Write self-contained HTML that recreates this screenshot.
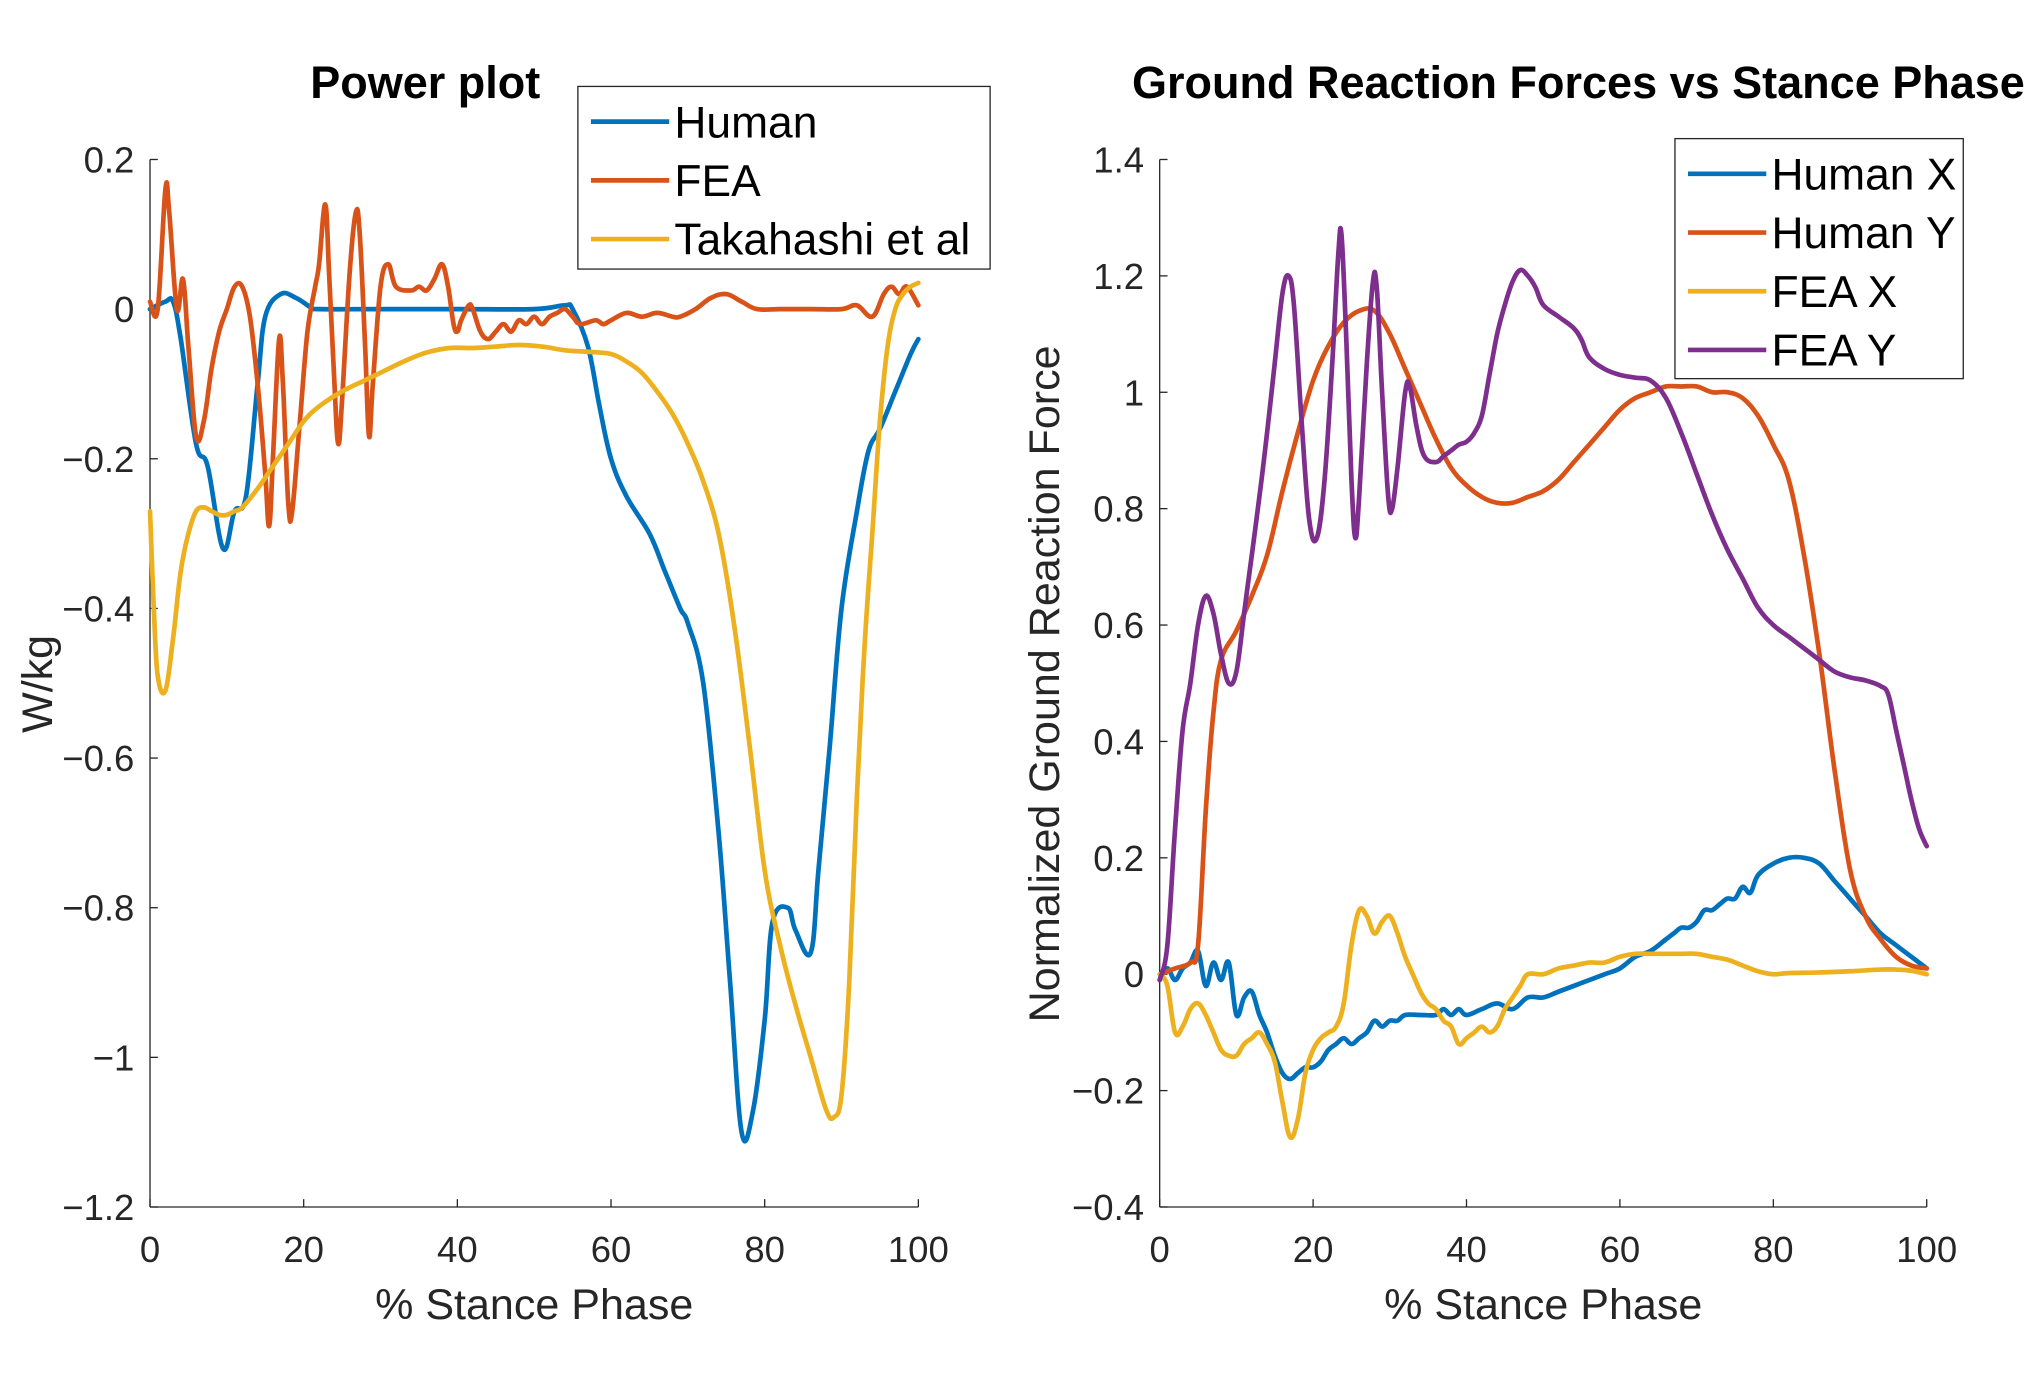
<!DOCTYPE html>
<html><head><meta charset="utf-8"><style>
html,body{margin:0;padding:0;background:#fff;}
svg{display:block;font-family:"Liberation Sans",Arial,sans-serif;}
</style></head><body>
<svg id="fig" width="2035" height="1373" viewBox="0 0 1560 1052" xmlns="http://www.w3.org/2000/svg">
<rect width="1560" height="1052" fill="#fff"/>
</svg>
<script>
// ---------- Left chart data (Power plot) ----------
const lHumanX=[0,2,3,4,6,7.5,9.5,11,12.5,14,15,17,19,21,22,30,40,50,54,55,57,58.5,60,62,65,67,69,70,72,74,75.5,77,78.5,80,81,83,84,86,87,88.5,90,92,93.5,95,97,99,100];
const lHumanY=[0,0.01,0.01,-0.04,-0.18,-0.21,-0.32,-0.27,-0.25,-0.1,-0.01,0.02,0.015,0.002,0,0,0,0,0.005,0,-0.05,-0.13,-0.2,-0.25,-0.3,-0.35,-0.4,-0.42,-0.5,-0.7,-0.9,-1.1,-1.07,-0.95,-0.82,-0.8,-0.83,-0.86,-0.75,-0.58,-0.4,-0.27,-0.19,-0.16,-0.11,-0.06,-0.04];
const lFeaX=[0,1,2,2.5,3.5,4.3,5,6,7,8,9,10,11,12,13,14,15,15.5,16,16.8,17.3,18,18.5,19.5,20.5,21.5,22,22.8,23.3,24,24.5,25,26,26.8,27.3,28,28.5,29,30,31,32,34,35,36,37,38,38.8,39.5,40,40.5,41.5,42,43,44,45,46,47,48,49,50,51,52,53,54,55,56,58,59,60,62,64,66,68,69,71,73,75,77,79,82,86,90,92,94,95.5,96.5,97.5,98.5,100];
const lFeaY=[0.01,0,0.16,0.13,0,0.04,-0.05,-0.17,-0.15,-0.08,-0.03,0,0.03,0.03,-0.01,-0.1,-0.22,-0.29,-0.2,-0.04,-0.1,-0.26,-0.27,-0.15,-0.03,0.03,0.06,0.14,0.05,-0.1,-0.18,-0.12,0.05,0.13,0.1,-0.05,-0.17,-0.1,0.03,0.06,0.03,0.025,0.03,0.025,0.04,0.06,0.03,-0.02,-0.03,-0.015,0.005,0,-0.03,-0.04,-0.03,-0.02,-0.03,-0.015,-0.02,-0.01,-0.02,-0.01,-0.005,0,-0.01,-0.02,-0.015,-0.02,-0.015,-0.005,-0.01,-0.005,-0.01,-0.01,0,0.015,0.02,0.01,0,0,0,0,0.005,-0.01,0.02,0.03,0.02,0.03,0.005];
const lTakX=[0,0.5,1,2,3,4,5,6,7,8,9,10,11,12,14,16,18,20,22,25,28,30,33,36,39,42,45,48,51,54,57,60,62,64,66,68,70,72,74,76,78,80,82,84,86,88,89,90,91,92,93,94,95,96,97,98,99,100];
const lTakY=[-0.27,-0.4,-0.49,-0.51,-0.44,-0.35,-0.3,-0.27,-0.265,-0.27,-0.275,-0.275,-0.27,-0.265,-0.24,-0.21,-0.18,-0.15,-0.13,-0.11,-0.095,-0.085,-0.07,-0.058,-0.052,-0.052,-0.05,-0.048,-0.05,-0.055,-0.057,-0.06,-0.07,-0.085,-0.11,-0.14,-0.18,-0.23,-0.3,-0.42,-0.58,-0.75,-0.85,-0.93,-1.0,-1.07,-1.08,-1.05,-0.9,-0.65,-0.45,-0.3,-0.15,-0.05,0,0.02,0.03,0.035];
const lXTicks=[0,20,40,60,80,100];
const lYTicks=[0.2,0,-0.2,-0.4,-0.6,-0.8,-1,-1.2];
const lLegend=["Human","FEA","Takahashi et al"];

// ---------- Right chart data (GRF) ----------
const rHXx=[0,1,2,3,4,5,6,7,8,9,10,11,12,13,14,15,16,17,18,19,20,21,22,23,24,25,26,27,28,29,30,31,32,34,36,37,38,39,40,42,44,46,48,50,52,54,56,58,60,62,64,66,67,68,69,70,71,72,73,74,75,76,77,78,80,82,84,86,88,90,92,94,96,98,100];
const rHXy=[-0.01,0.01,-0.01,0.01,0.02,0.04,-0.02,0.02,-0.01,0.02,-0.07,-0.04,-0.03,-0.07,-0.1,-0.14,-0.17,-0.18,-0.17,-0.16,-0.16,-0.15,-0.13,-0.12,-0.11,-0.12,-0.11,-0.1,-0.08,-0.09,-0.08,-0.08,-0.07,-0.07,-0.07,-0.06,-0.07,-0.06,-0.07,-0.06,-0.05,-0.06,-0.04,-0.04,-0.03,-0.02,-0.01,0,0.01,0.03,0.04,0.06,0.07,0.08,0.08,0.09,0.11,0.11,0.12,0.13,0.13,0.15,0.14,0.17,0.19,0.2,0.2,0.19,0.16,0.13,0.1,0.07,0.05,0.03,0.01];
const rHYx=[0,2,4,5,6,7,8,10,12,14,16,18,20,22,24,26,28,30,32,34,36,38,40,42,44,46,48,50,52,54,56,58,60,62,64,66,68,70,72,74,76,78,80,82,84,86,88,90,92,94,96,98,100];
const rHYy=[0,0.01,0.02,0.05,0.28,0.45,0.54,0.59,0.65,0.72,0.83,0.93,1.02,1.08,1.12,1.14,1.14,1.1,1.04,0.98,0.92,0.87,0.84,0.82,0.81,0.81,0.82,0.83,0.85,0.88,0.91,0.94,0.97,0.99,1.0,1.01,1.01,1.01,1.0,1.0,0.99,0.96,0.91,0.85,0.72,0.55,0.35,0.18,0.1,0.06,0.03,0.015,0.01];
const rFXx=[0,1,2,3,4,5,6,7,8,9,10,11,12,13,14,15,16,17,18,19,20,21,22,23,24,25,26,27,28,29,30,31,32,33,34,35,36,37,38,39,40,41,42,43,44,45,46,47,48,50,52,54,56,58,60,62,64,66,68,70,72,74,76,78,80,82,86,90,94,96,98,100];
const rFXy=[0,-0.02,-0.1,-0.09,-0.06,-0.05,-0.07,-0.1,-0.13,-0.14,-0.14,-0.12,-0.11,-0.1,-0.12,-0.15,-0.22,-0.28,-0.25,-0.17,-0.13,-0.11,-0.1,-0.09,-0.05,0.05,0.11,0.1,0.07,0.09,0.1,0.07,0.03,0,-0.03,-0.05,-0.06,-0.08,-0.09,-0.12,-0.11,-0.1,-0.09,-0.1,-0.09,-0.06,-0.04,-0.02,0,0,0.01,0.015,0.02,0.02,0.03,0.035,0.035,0.035,0.035,0.035,0.03,0.025,0.015,0.005,0,0.002,0.003,0.005,0.008,0.008,0.006,0];
const rFYx=[0,1,2,3,4,5,6,7,8,9,10,11,12,13,14,15,16,16.8,17.5,18.5,19.5,20.5,21.5,22.5,23.3,23.7,24.3,25,25.5,26,27,27.8,28.3,29,29.8,30.3,31,32,32.6,33.5,34.5,36,37,38,39,40,41,42,43,44,45,46,47,48,49,50,52,54,55,56,58,60,62,64,66,68,70,72,74,76,78,80,82,84,86,88,90,92,94,95,96,97,98,99,100];
const rFYy=[-0.01,0.05,0.25,0.42,0.5,0.6,0.65,0.62,0.55,0.5,0.52,0.62,0.72,0.82,0.93,1.05,1.17,1.2,1.15,0.95,0.78,0.75,0.85,1.05,1.24,1.27,1.1,0.85,0.75,0.82,1.05,1.19,1.18,1.0,0.82,0.8,0.87,1.0,1.01,0.94,0.89,0.88,0.89,0.9,0.91,0.915,0.93,0.96,1.03,1.1,1.15,1.19,1.21,1.2,1.18,1.15,1.13,1.11,1.09,1.06,1.04,1.03,1.025,1.02,0.99,0.93,0.86,0.79,0.73,0.68,0.63,0.6,0.58,0.56,0.54,0.52,0.51,0.505,0.495,0.48,0.42,0.36,0.3,0.25,0.22];
const rXTicks=[0,20,40,60,80,100];
const rYTicks=[1.4,1.2,1,0.8,0.6,0.4,0.2,0,-0.2,-0.4];
const rLegend=["Human X","Human Y","FEA X","FEA Y"];

const NS="http://www.w3.org/2000/svg";
const svg=document.getElementById('fig');
const C=["#0072BD","#D95319","#EDB120","#7E2F8E"];
function mk(tag,attrs,parent){const e=document.createElementNS(NS,tag);for(const k in attrs)e.setAttribute(k,attrs[k]);(parent||svg).appendChild(e);return e;}
function fmt(v){let s=String(Math.round(v*10)/10);return s.replace('-','\u2212');}
function smooth(P){
  let d='M'+P[0][0].toFixed(1)+','+P[0][1].toFixed(1);
  const t=0.18;
  for(let i=0;i<P.length-1;i++){
    const p0=P[i-1]||P[i],p1=P[i],p2=P[i+1],p3=P[i+2]||P[i+1];
    const c1x=p1[0]+(p2[0]-p0[0])*t,c1y=p1[1]+(p2[1]-p0[1])*t;
    const c2x=p2[0]-(p3[0]-p1[0])*t,c2y=p2[1]-(p3[1]-p1[1])*t;
    d+=`C${c1x.toFixed(1)},${c1y.toFixed(1)} ${c2x.toFixed(1)},${c2y.toFixed(1)} ${p2[0].toFixed(1)},${p2[1].toFixed(1)}`;
  }
  return d;
}

function axes(o){
  const g=mk('g',{});
  
  
  const sx=v=>o.x0+(v-o.xmin)/(o.xmax-o.xmin)*(o.x1-o.x0);
  const sy=v=>o.y1-(v-o.ymin)/(o.ymax-o.ymin)*(o.y1-o.y0);
  const ya=mk('line',{x1:o.x0,y1:o.y0,x2:o.x0,y2:o.y1,stroke:'#262626','stroke-width':1},g);
  
  
  const xa=mk('line',{x1:o.x0,y1:o.y1,x2:o.x1,y2:o.y1,stroke:'#262626','stroke-width':1},g);
  
  
  o.yt.forEach(v=>{
    const y=sy(v);
    mk('line',{x1:o.x0,y1:y,x2:o.x0+6,y2:y,stroke:'#262626','stroke-width':1},g);
    const t=mk('text',{x:o.x0-12,y:y+10,'text-anchor':'end','font-size':28,fill:'#262626'},g);
    t.textContent=fmt(v);
    
    
  });
  o.xt.forEach(v=>{
    const x=sx(v);
    mk('line',{x1:x,y1:o.y1,x2:x,y2:o.y1-6,stroke:'#262626','stroke-width':1},g);
    const t=mk('text',{x:x,y:o.y1+42,'text-anchor':'middle','font-size':28,fill:'#262626'},g);
    t.textContent=fmt(v);
    
    
  });
  const xl=mk('text',{x:(o.x0+o.x1)/2,y:o.y1+86,'text-anchor':'middle','font-size':33,fill:'#262626'},g);
  xl.textContent='% Stance Phase';
  
  
  const yl=mk('text',{x:0,y:0,'text-anchor':'middle','font-size':33,fill:'#262626',transform:`translate(${o.ylx},${o.yly}) rotate(-90)`},g);
  yl.textContent=o.ylabel;
  
  
  const ti=mk('text',{x:o.tx,y:75,'text-anchor':'middle','font-size':34.5,'font-weight':'bold',fill:'#000'},g);
  ti.textContent=o.title;
  
  
  o.series.forEach((s,i)=>{
    const P=s.x.map((xv,j)=>[sx(xv),sy(s.y[j])]);
    const p=mk('path',{d:smooth(P),fill:'none',stroke:C[i],'stroke-width':3.6,'stroke-linejoin':'round','stroke-linecap':'round'},g);
    
    
  });
  const L=o.leg;
  const lg=mk('g',{},g);
  
  
  mk('rect',{x:L.x,y:L.y,width:L.w,height:L.h,fill:'#fff',stroke:'#262626','stroke-width':1},lg);
  o.legend.forEach((lab,i)=>{
    const cy=L.y+27+i*45;
    mk('line',{x1:L.x+10,y1:cy,x2:L.x+70,y2:cy,stroke:C[i],'stroke-width':3.6},lg);
    const t=mk('text',{x:L.x+74,y:cy+12,'font-size':34,fill:'#000'},lg);
    t.textContent=lab;
    
    
  });
}

axes({name:'power-plot',x0:115,x1:704,y0:122,y1:925,xmin:0,xmax:100,ymin:-1.2,ymax:0.2,xt:lXTicks,yt:lYTicks,
  ylabel:'W/kg',ylx:40,yly:524,title:'Power plot',tx:326,legend:lLegend,leg:{x:443,y:66,w:316,h:140},
  series:[{name:'human-power-line',x:lHumanX,y:lHumanY},{name:'fea-power-line',x:lFeaX,y:lFeaY},{name:'takahashi-power-line',x:lTakX,y:lTakY}]});
axes({name:'grf-plot',x0:889,x1:1477,y0:122,y1:925,xmin:0,xmax:100,ymin:-0.4,ymax:1.4,xt:rXTicks,yt:rYTicks,
  ylabel:'Normalized Ground Reaction Force',ylx:812,yly:524,title:'Ground Reaction Forces vs Stance Phase',tx:1210,legend:rLegend,leg:{x:1284,y:106,w:221,h:184},
  series:[{name:'human-x-line',x:rHXx,y:rHXy},{name:'human-y-line',x:rHYx,y:rHYy},{name:'fea-x-line',x:rFXx,y:rFXy},{name:'fea-y-line',x:rFYx,y:rFYy}]});
</script>
</body></html>
